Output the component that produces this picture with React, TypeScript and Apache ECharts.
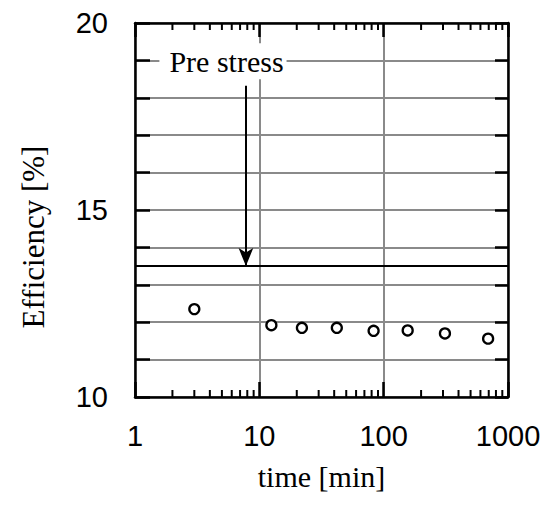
import React, { useEffect, useRef } from "react";
import * as echarts from "echarts";

// ---- data ----
const timeMin = [3, 12.5, 22, 42, 83, 156, 311, 692];
const efficiency = [12.35, 11.92, 11.85, 11.85, 11.77, 11.78, 11.7, 11.56];
const preStressLevel = 13.5;
const arrowX = 7.8;
const arrowTop = 18.32;
const labelAnchor = [5.1, 18.98];
const labelText = "Pre stress";
const minorTicks = [2, 3, 4, 5, 6, 7, 8, 9, 20, 30, 40, 50, 60, 70, 80, 90, 200, 300, 400, 500, 600, 700, 800, 900];
const yLabelValues = [10, 15, 20];
const xRange = [1, 1000];
const yRange = [10, 20];

const SANS = "Liberation Sans";
const SERIF = "Liberation Serif";

export default function App() {
  const ref = useRef<HTMLDivElement>(null);
  useEffect(() => {
    if (!ref.current) return;
    const chart = echarts.init(ref.current, null, { renderer: "svg" });
    const axisLine = { show: true, lineStyle: { color: "#000", width: 2.5 } };
    chart.setOption({
      animation: false,
      backgroundColor: "#fff",
      textStyle: { fontFamily: SANS },
      grid: { left: 135, right: 46, top: 23, bottom: 111, containLabel: false },
      xAxis: [
        {
          type: "log",
          logBase: 10,
          min: xRange[0],
          max: xRange[1],
          name: "time [min]",
          nameLocation: "middle",
          nameGap: 64,
          nameTextStyle: { fontFamily: SERIF, fontSize: 30, color: "#000" },
          axisLine,
          axisTick: { show: true, inside: true, length: 15, lineStyle: { color: "#000", width: 2.5 } },
          axisLabel: {
            fontFamily: SANS,
            fontSize: 29,
            color: "#000",
            margin: 24,
            formatter: (v: number) => String(Math.round(v)),
          },
          splitLine: { show: true, lineStyle: { color: "#8a8a8a", width: 2 } },
          minorTick: { show: false },
        },
        {
          type: "log",
          logBase: 10,
          min: xRange[0],
          max: xRange[1],
          position: "top",
          axisLine,
          axisTick: { show: true, inside: true, length: 14, lineStyle: { color: "#000", width: 2.5 } },
          axisLabel: { show: false },
          splitLine: { show: false },
        },
      ],
      yAxis: [
        {
          type: "value",
          min: yRange[0],
          max: yRange[1],
          interval: 1,
          name: "Efficiency [%]",
          nameLocation: "middle",
          nameGap: 86,
          nameRotate: 90,
          nameTextStyle: { fontFamily: SERIF, fontSize: 31, color: "#000", padding: [0, 54, 0, 0] },
          axisLine,
          axisTick: { show: true, inside: true, length: 15, lineStyle: { color: "#000", width: 2.5 } },
          axisLabel: {
            fontFamily: SANS,
            fontSize: 29,
            color: "#000",
            margin: 27,
            padding: [0, 0, 7, 0],
            formatter: (v: number) => (yLabelValues.includes(v) ? String(v) : ""),
          },
          splitLine: { show: true, lineStyle: { color: "#8a8a8a", width: 2 } },
        },
        {
          type: "value",
          min: yRange[0],
          max: yRange[1],
          interval: 1,
          position: "right",
          axisLine,
          axisTick: { show: true, inside: true, length: 13, lineStyle: { color: "#000", width: 2.5 } },
          axisLabel: { show: false },
          splitLine: { show: false },
        },
      ],
      series: [
        {
          type: "custom",
          silent: true,
          z: 5,
          data: minorTicks.map((v) => [v, 15]),
          renderItem: (params: any, api: any) => {
            const p = api.coord([api.value(0), 15]);
            const cs = params.coordSys;
            return {
              type: "group",
              children: [
                { type: "line", shape: { x1: p[0], y1: cs.y + cs.height, x2: p[0], y2: cs.y + cs.height - 7 }, style: { stroke: "#000", lineWidth: 2 } },
                { type: "line", shape: { x1: p[0], y1: cs.y, x2: p[0], y2: cs.y + 7 }, style: { stroke: "#000", lineWidth: 2 } },
              ],
            };
          },
        },
        {
          type: "scatter",
          data: timeMin.map((t, i) => [t, efficiency[i]]),
          symbol: "circle",
          symbolSize: 10,
          itemStyle: { color: "#fff", borderColor: "#000", borderWidth: 2.3, opacity: 1 },
          z: 6,
          markLine: {
            silent: true,
            animation: false,
            label: { show: false },
            data: [
              [
                { coord: [xRange[0], preStressLevel], symbol: "none" },
                { coord: [xRange[1], preStressLevel], symbol: "none" },
              ],
              [
                { coord: [arrowX, arrowTop], symbol: "none" },
                { coord: [arrowX, preStressLevel], symbol: "arrow", symbolSize: [11, 18] },
              ],
            ],
            lineStyle: { color: "#000", width: 2, type: "solid", opacity: 1 },
          },
          markPoint: {
            silent: true,
            symbol: "rect",
            symbolSize: 1,
            itemStyle: { color: "rgba(0,0,0,0)" },
            data: [
              {
                coord: labelAnchor,
                label: {
                  show: true,
                  position: "inside",
                  formatter: labelText,
                  fontFamily: SERIF,
                  fontSize: 30,
                  color: "#000",
                  backgroundColor: "#fff",
                  padding: [3, 3, 3, 10],
                },
              },
            ],
          },
        },
      ],
    });
    return () => chart.dispose();
  }, []);
  return <div ref={ref} style={{ position: "fixed", left: 0, top: 0, width: 554, height: 508 }} />;
}
